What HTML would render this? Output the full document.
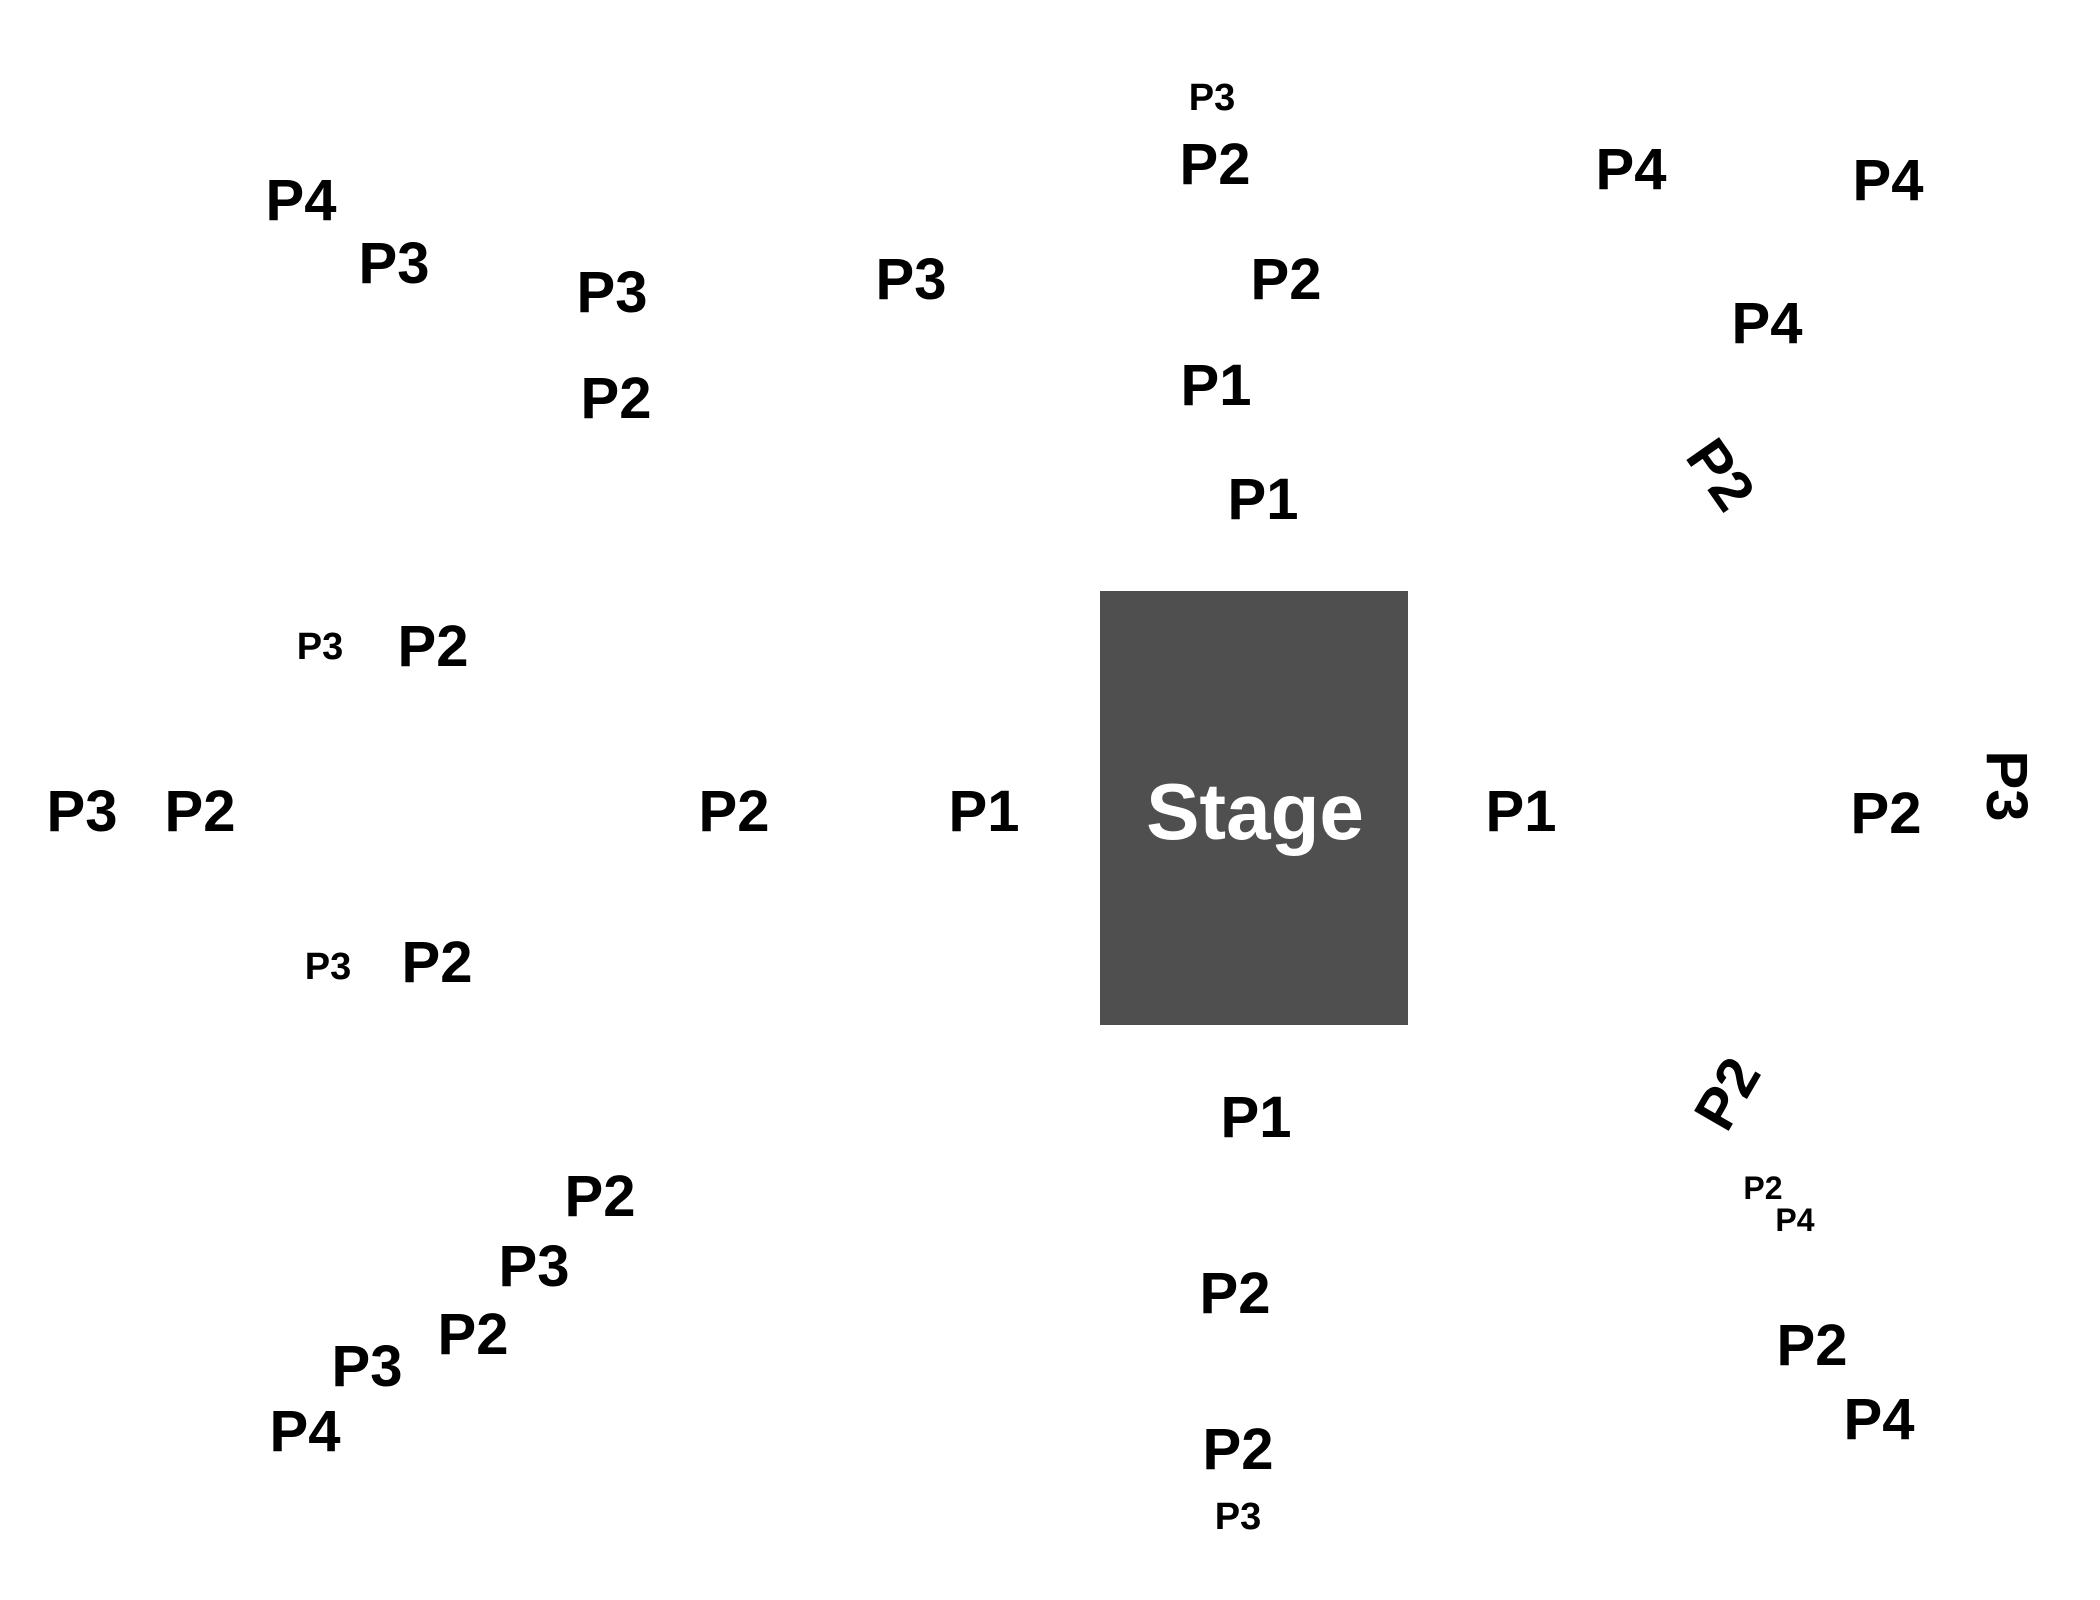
<!DOCTYPE html>
<html><head><meta charset="utf-8"><style>
html,body{margin:0;padding:0;background:#fff;width:2100px;height:1600px;overflow:hidden;position:relative}
.l{position:absolute;font-family:"Liberation Sans",sans-serif;font-weight:bold;color:#000;line-height:1;white-space:nowrap;transform:translate(-50%,-50%);font-size:58px}
.s{font-size:38px}.t{font-size:32px}
#stage{position:absolute;left:1100px;top:591px;width:308px;height:434px;background:#4f4f4f}
</style></head><body>
<div id="stage"></div>
<div class="l" style="left:1255px;top:812px;color:#fff;font-size:80px">Stage</div>
<div class="l s" style="left:1212px;top:98px">P3</div>
<div class="l" style="left:1215px;top:165px">P2</div>
<div class="l" style="left:1631px;top:170px">P4</div>
<div class="l" style="left:1888px;top:181px">P4</div>
<div class="l" style="left:301px;top:201px">P4</div>
<div class="l" style="left:394px;top:264px">P3</div>
<div class="l" style="left:612px;top:293px">P3</div>
<div class="l" style="left:911px;top:280px">P3</div>
<div class="l" style="left:1286px;top:280px">P2</div>
<div class="l" style="left:1767px;top:324px">P4</div>
<div class="l" style="left:616px;top:399px">P2</div>
<div class="l" style="left:1216px;top:386px">P1</div>
<div class="l" style="left:1263px;top:500px">P1</div>
<div class="l" style="left:1720px;top:475px;transform:translate(-50%,-50%) rotate(55deg)">P2</div>
<div class="l s" style="left:320px;top:647px">P3</div>
<div class="l" style="left:433px;top:647px">P2</div>
<div class="l" style="left:82px;top:812px">P3</div>
<div class="l" style="left:200px;top:812px">P2</div>
<div class="l" style="left:734px;top:812px">P2</div>
<div class="l" style="left:984px;top:812px">P1</div>
<div class="l" style="left:1521px;top:812px">P1</div>
<div class="l" style="left:1886px;top:814px">P2</div>
<div class="l" style="left:2006px;top:786px;transform:translate(-50%,-50%) rotate(90deg)">P3</div>
<div class="l s" style="left:328px;top:967px">P3</div>
<div class="l" style="left:437px;top:963px">P2</div>
<div class="l" style="left:1728px;top:1094px;transform:translate(-50%,-50%) rotate(-60deg)">P2</div>
<div class="l" style="left:1256px;top:1118px">P1</div>
<div class="l t" style="left:1763px;top:1188px">P2</div>
<div class="l t" style="left:1795px;top:1220px">P4</div>
<div class="l" style="left:600px;top:1197px">P2</div>
<div class="l" style="left:534px;top:1267px">P3</div>
<div class="l" style="left:473px;top:1335px">P2</div>
<div class="l" style="left:367px;top:1367px">P3</div>
<div class="l" style="left:305px;top:1432px">P4</div>
<div class="l" style="left:1235px;top:1294px">P2</div>
<div class="l" style="left:1812px;top:1346px">P2</div>
<div class="l" style="left:1879px;top:1420px">P4</div>
<div class="l" style="left:1238px;top:1450px">P2</div>
<div class="l s" style="left:1238px;top:1517px">P3</div>
</body></html>
